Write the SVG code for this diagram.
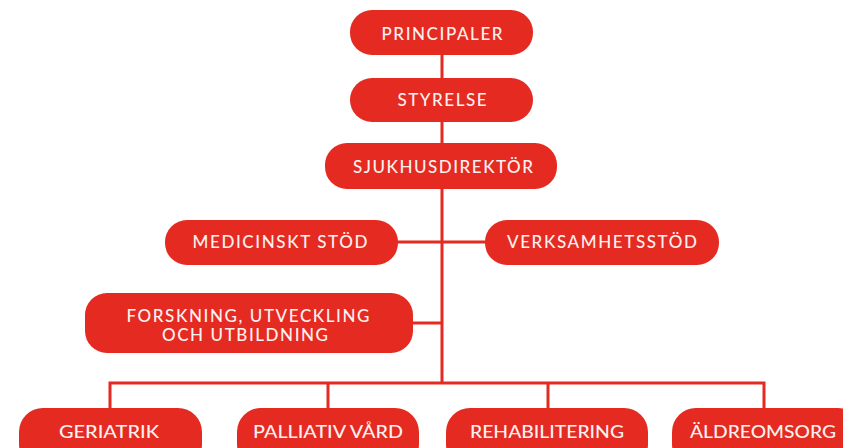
<svg xmlns="http://www.w3.org/2000/svg" width="843" height="448" viewBox="0 0 843 448">
<style>
.box{fill:#e42a21}
.t{fill:#fdf0ee;font-family:Lato,"Open Sans",sans-serif;font-size:17px;text-anchor:middle;font-weight:500}
.b{font-size:18px}
.ln{stroke:#e42a21;stroke-width:3;fill:none}
</style>
<rect width="843" height="448" fill="#ffffff"/>
<g id="connectors">
<line class="ln" x1="442" y1="50" x2="442" y2="384"/>
<line class="ln" x1="395" y1="242" x2="490" y2="242"/>
<line class="ln" x1="410" y1="323" x2="442" y2="323"/>
<polyline class="ln" points="110,410 110,383 764,383 764,410"/>
<line class="ln" x1="328" y1="383" x2="328" y2="410"/>
<line class="ln" x1="548" y1="383" x2="548" y2="410"/>
</g>
<g id="principaler"><rect class="box" x="350" y="10" width="183" height="45" rx="22"/><text class="t" x="442" y="40" textLength="121">PRINCIPALER</text></g>
<g id="styrelse"><rect class="box" x="350" y="78" width="183" height="44" rx="22"/><text class="t" x="442" y="106" textLength="89">STYRELSE</text></g>
<g id="sjukhusdirektor"><rect class="box" x="325" y="143" width="232" height="46" rx="22"/><text class="t" x="443" y="173" textLength="180">SJUKHUSDIREKTÖR</text></g>
<g id="medicinskt"><rect class="box" x="165" y="220" width="233" height="45" rx="22"/><text class="t" x="280" y="248" textLength="175">MEDICINSKT STÖD</text></g>
<g id="verksamhetsstod"><rect class="box" x="485" y="220" width="234" height="45" rx="22"/><text class="t" x="602" y="248" textLength="190">VERKSAMHETSSTÖD</text></g>
<g id="forskning"><rect class="box" x="85" y="293" width="328" height="60" rx="22"/><text class="t" x="248" y="322" textLength="243">FORSKNING, UTVECKLING</text><text class="t" x="245" y="341" textLength="166">OCH UTBILDNING</text></g>
<g id="geriatrik"><rect class="box" x="19" y="408" width="183" height="60" rx="24"/><text class="t b" x="109" y="438" textLength="100" lengthAdjust="spacingAndGlyphs">GERIATRIK</text></g>
<g id="palliativ"><rect class="box" x="237" y="408" width="182" height="60" rx="24"/><text class="t b" x="328" y="438" textLength="150" lengthAdjust="spacingAndGlyphs">PALLIATIV VÅRD</text></g>
<g id="rehabilitering"><rect class="box" x="446" y="408" width="202" height="60" rx="24"/><text class="t b" x="547" y="438" textLength="154" lengthAdjust="spacingAndGlyphs">REHABILITERING</text></g>
<g id="aldreomsorg"><rect class="box" x="672" y="408" width="190" height="60" rx="24"/><text class="t b" x="763" y="438" textLength="146" lengthAdjust="spacingAndGlyphs">ÄLDREOMSORG</text></g>
</svg>
